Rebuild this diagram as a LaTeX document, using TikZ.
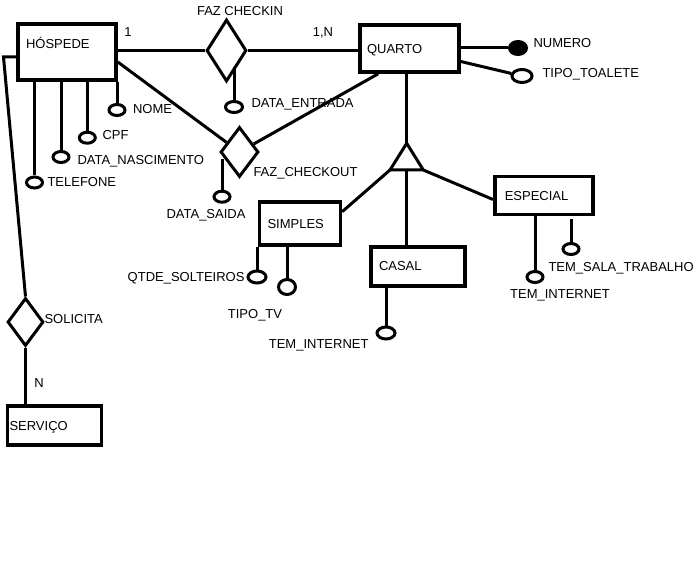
\documentclass[tikz,border=0pt]{standalone}
\usepackage{fontspec}
\setmainfont{Liberation Sans}
\usetikzlibrary{shapes.geometric}

\begin{document}
\begin{tikzpicture}[x=1pt,y=-1pt,line width=3pt,font=\fontsize{13}{15}\selectfont,
  entity/.style={draw,rectangle,line width=3.6pt,align=left,inner sep=0pt,text height=9.5pt,text depth=0pt},
  rel/.style={draw,diamond,line width=3pt,inner sep=0pt},
  attr/.style={draw,ellipse,line width=3pt,inner sep=0pt,minimum width=16pt,minimum height=11pt},
  keyattr/.style={attr,fill=black},
  lbl/.style={inner sep=0pt,text height=9.5pt,text depth=0pt}]
\useasboundingbox (0,0) rectangle (696,564);
\node[entity,text width=82pt,inner xsep=8pt,minimum height=56pt,text depth=16pt] (hospede) at (67,52) {HÓSPEDE};
\node[entity,text width=85pt,inner xsep=7pt,minimum height=47pt] (quarto) at (409.5,48.5) {QUARTO};
\node[entity,text width=65pt,inner xsep=8pt,minimum height=43pt] (simples) at (300,223.6) {SIMPLES};
\node[entity,text width=78pt,inner xsep=8pt,minimum height=39pt] (casal) at (418,266.2) {CASAL};
\node[entity,text width=78pt,inner xsep=10pt,minimum height=38pt] (especial) at (543.8,195.5) {ESPECIAL};
\node[entity,text width=90pt,inner xsep=2pt,minimum height=39pt] (servico) at (54.5,425.3) {SERVIÇO};
\node[rel,minimum width=40pt,minimum height=62pt] (fazCheckin) at (226.5,50.5) {};
\node[rel,minimum width=38pt,minimum height=50pt] (fazCheckout) at (239.5,152) {};
\node[rel,minimum width=36pt,minimum height=48pt] (solicita) at (25.5,322) {};
\coordinate (isaTop) at (406.7,143.3);
\coordinate (isaL) at (390,170);
\coordinate (isaR) at (423.3,170);
\coordinate (isaM) at (406.5,170);
\coordinate (dobra) at (3.5,57);
\node[attr] (nome) at (117,110) {};
\node[attr] (cpf) at (87.3,137.7) {};
\node[attr] (dataNasc) at (61,157) {};
\node[attr] (telefone) at (34.5,182.5) {};
\node[attr,minimum width=17pt] (dataEntrada) at (234,107) {};
\node[attr] (dataSaida) at (222,196.7) {};
\node[attr,minimum width=18pt,minimum height=12pt] (qtdeSolteiros) at (257,277) {};
\node[attr,minimum width=17pt,minimum height=15pt] (tipoTv) at (287,287) {};
\node[attr,minimum width=18pt,minimum height=12pt] (internetCasal) at (386,333) {};
\node[attr] (internetEspecial) at (535,277) {};
\node[attr] (salaTrabalho) at (571,249) {};
\node[keyattr,minimum width=17pt,minimum height=13pt] (numero) at (518,48) {};
\node[attr,minimum width=20pt,minimum height=13pt] (tipoToalete) at (522,76) {};
\node[lbl] (tCheckin) at (240,11) {FAZ CHECKIN};
\node[lbl] (tUm) at (128,32) {1};
\node[lbl] (tUmN) at (323,32) {1,N};
\node[lbl,anchor=west] (tDataEntrada) at (250,103) {DATA\_ENTRADA};
\node[lbl,anchor=west] (tNome) at (131.5,109) {NOME};
\node[lbl,anchor=west] (tCpf) at (101,135) {CPF};
\node[lbl,anchor=west] (tDataNasc) at (76,160) {DATA\_NASCIMENTO};
\node[lbl,anchor=west] (tTelefone) at (46,182) {TELEFONE};
\node[lbl,anchor=west] (tCheckout) at (252,172) {FAZ\_CHECKOUT};
\node[lbl] (tDataSaida) at (206,214) {DATA\_SAIDA};
\node[lbl,anchor=east] (tQtde) at (246,277) {QTDE\_SOLTEIROS};
\node[lbl] (tTipoTv) at (255,314) {TIPO\_TV};
\node[lbl,anchor=east] (tInternetCasal) at (370,344) {TEM\_INTERNET};
\node[lbl] (tInternetEspecial) at (560,294) {TEM\_INTERNET};
\node[lbl,anchor=west] (tSala) at (547,267) {TEM\_SALA\_TRABALHO};
\node[lbl,anchor=west] (tNumero) at (532,43) {NUMERO};
\node[lbl,anchor=west] (tToalete) at (541,73) {TIPO\_TOALETE};
\node[lbl,anchor=west] (tSolicita) at (43,319) {SOLICITA};
\node[lbl] (tN) at (39,383) {N};
\draw (hospede.east |- fazCheckin) -- (fazCheckin);
\draw (fazCheckin) -- (fazCheckin -| quarto.west);
\draw ([yshift=-10pt]hospede.east) -- (fazCheckout);
\draw ([xshift=20pt]quarto.south west) -- (fazCheckout);
\draw (quarto.south -| isaTop) -- (isaTop);
\draw (isaTop) -- (isaL) -- (isaR) -- cycle;
\draw (isaL) -- ([yshift=12pt]simples.east);
\draw (isaM) -- (isaM |- casal.north);
\draw (isaR) -- ([yshift=-4pt]especial.west);
\draw (quarto.east |- numero) -- (numero);
\draw ([yshift=-13pt]quarto.east) -- (tipoToalete);
\draw (nome.north) -- (nome.north |- hospede.south);
\draw (cpf.north) -- (cpf.north |- hospede.south);
\draw (dataNasc.north) -- (dataNasc.north |- hospede.south);
\draw (telefone.north) -- (telefone.north |- hospede.south);
\draw (dataEntrada.north) -- (dataEntrada.north |- fazCheckin.south east);
\draw (dataSaida.north) -- ([yshift=6pt]dataSaida.north |- fazCheckout.south west);
\draw (qtdeSolteiros.north -| simples.south west) -- (simples.south west);
\draw (tipoTv.north) -- (tipoTv.north |- simples.south);
\draw (internetCasal.north) -- (internetCasal.north |- casal.south);
\draw (internetEspecial.north) -- (internetEspecial.north |- especial.south);
\draw (salaTrabalho.north) -- ([yshift=-3pt]salaTrabalho.north |- especial.south);
\draw ([yshift=-5pt]hospede.west) -- (dobra) -- (solicita.north);
\draw (solicita.south) -- (solicita.south |- servico.north);
\end{tikzpicture}
\end{document}
